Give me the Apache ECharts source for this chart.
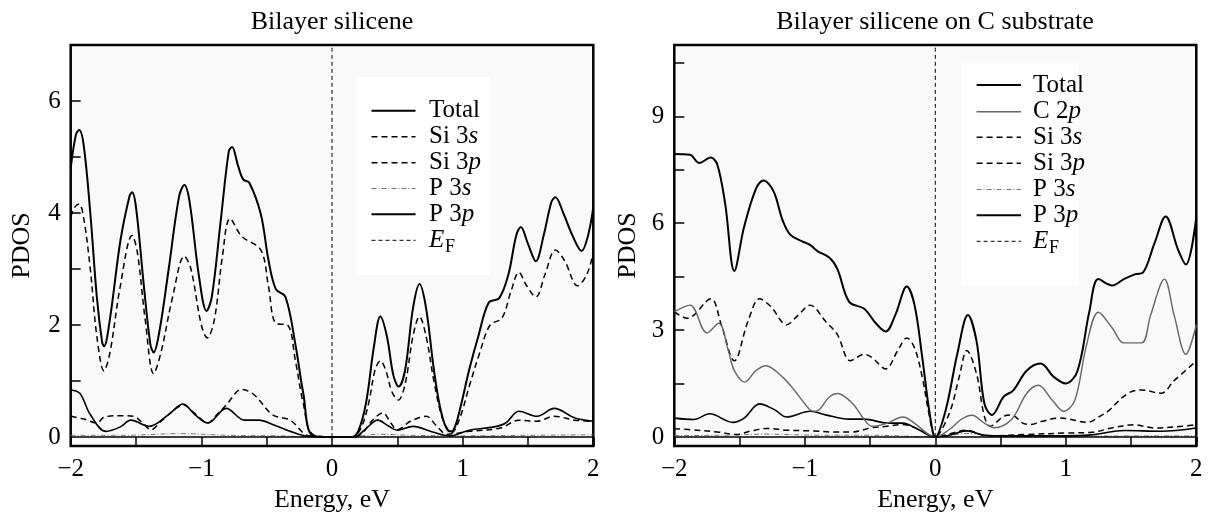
<!DOCTYPE html>
<html>
<head>
<meta charset="utf-8">
<script src="https://cdn.jsdelivr.net/npm/echarts@6/dist/echarts.min.js"></script>
<style>
  html, body { margin: 0; padding: 0; background: #fff; }
  #chart { width: 1208px; height: 518px; }
</style>
</head>
<body>
<div id="chart"></div>
<script>
// ---- data: bilayer silicene (left panel) ----
var blTotalE = [-2,-1.96,-1.935,-1.9,-1.85,-1.8,-1.76,-1.745,-1.7,-1.62,-1.55,-1.53,-1.5,-1.44,-1.39,-1.365,-1.32,-1.25,-1.17,-1.13,-1.09,-1.02,-0.96,-0.92,-0.85,-0.79,-0.765,-0.72,-0.68,-0.633,-0.545,-0.487,-0.43,-0.356,-0.28,-0.22,-0.15,0,0.15,0.2,0.26,0.32,0.37,0.42,0.47,0.51,0.56,0.62,0.67,0.72,0.78,0.84,0.9,0.93,0.98,1.05,1.12,1.2,1.28,1.35,1.41,1.445,1.5,1.56,1.62,1.68,1.71,1.77,1.84,1.91,1.96,2]
var blTotal = [4.8,5.4,5.48,5.2,4.0,2.5,1.7,1.62,2.1,3.5,4.3,4.37,4.1,2.7,1.65,1.51,1.9,3.0,4.3,4.5,4.2,2.9,2.25,2.5,3.9,5.1,5.18,4.85,4.6,4.54,3.98,3.17,2.64,2.5,1.65,0.78,0.03,0,0,0.1,0.6,1.6,2.15,1.8,1.1,0.9,1.2,2.3,2.73,2.3,1.2,0.4,0.1,0.12,0.5,1.2,1.8,2.4,2.48,2.9,3.6,3.75,3.45,3.14,3.6,4.2,4.28,4.0,3.6,3.32,3.6,4.1]

var blSi3pE = [-2,-1.97,-1.935,-1.9,-1.85,-1.8,-1.745,-1.7,-1.62,-1.53,-1.49,-1.43,-1.365,-1.31,-1.22,-1.13,-1.08,-1.0,-0.955,-0.9,-0.84,-0.78,-0.69,-0.545,-0.487,-0.43,-0.34,-0.28,-0.22,-0.15,0,0.15,0.22,0.28,0.33,0.37,0.41,0.46,0.508,0.56,0.62,0.669,0.72,0.78,0.85,0.917,0.98,1.05,1.13,1.21,1.3,1.37,1.43,1.49,1.56,1.63,1.71,1.78,1.88,1.95,2]
var blSi3p = [3.93,4.1,4.16,3.9,3.0,1.8,1.18,1.5,2.7,3.6,3.3,2.1,1.13,1.5,2.5,3.23,3.0,2.0,1.77,2.1,3.2,3.9,3.58,3.34,2.7,2.03,2.0,1.36,0.6,0.05,0,0,0.15,0.6,1.2,1.36,1.2,0.8,0.66,0.95,1.8,2.15,1.8,1.0,0.3,0.08,0.35,0.9,1.5,2.0,2.12,2.6,2.94,2.7,2.5,2.9,3.34,3.15,2.7,2.9,3.29]

var blSi3sE = [-2,-1.9,-1.8,-1.74,-1.6,-1.52,-1.45,-1.385,-1.3,-1.2,-1.14,-1.05,-0.95,-0.88,-0.81,-0.69,-0.594,-0.457,-0.32,-0.21,-0.15,0,0.15,0.225,0.31,0.39,0.45,0.5,0.6,0.72,0.8,0.88,1.05,1.29,1.43,1.57,1.7,1.86,2]
var blSi3s = [0.37,0.32,0.25,0.36,0.38,0.37,0.25,0.13,0.3,0.5,0.57,0.42,0.25,0.4,0.57,0.85,0.75,0.4,0.3,0.05,0.01,0,0,0.05,0.3,0.43,0.25,0.13,0.28,0.37,0.2,0.05,0.1,0.16,0.3,0.28,0.37,0.3,0.28]

var blP3pE = [-2,-1.93,-1.85,-1.73,-1.62,-1.54,-1.4,-1.25,-1.14,-1.05,-0.95,-0.81,-0.67,-0.56,-0.45,-0.32,-0.18,0,0.17,0.26,0.35,0.43,0.5,0.62,0.77,0.9,1.05,1.24,1.33,1.43,1.57,1.7,1.86,2]
var blP3p = [0.84,0.78,0.4,0.1,0.18,0.3,0.19,0.4,0.59,0.4,0.25,0.51,0.3,0.3,0.22,0.1,0.01,0,0,0.15,0.3,0.2,0.12,0.19,0.09,0.02,0.12,0.18,0.25,0.46,0.37,0.51,0.34,0.28]

var blP3sE = [-2,-1.6,-1.15,-0.8,-0.4,-0.15,0.15,0.35,0.6,1.0,1.5,2]
var blP3s = [0.03,0.03,0.06,0.03,0.02,0,0,0.05,0.03,0.02,0.03,0.04]

// ---- data: bilayer silicene on C substrate (right panel) ----
var csTotalE = [-2,-1.88,-1.81,-1.72,-1.67,-1.61,-1.54,-1.465,-1.376,-1.317,-1.24,-1.17,-1.11,-1.02,-0.96,-0.9,-0.81,-0.75,-0.66,-0.545,-0.456,-0.38,-0.307,-0.218,-0.159,-0.1,-0.04,0,0.08,0.168,0.25,0.316,0.376,0.435,0.524,0.598,0.7,0.806,0.91,1.0,1.09,1.18,1.25,1.356,1.445,1.534,1.59,1.68,1.765,1.86,1.92,2]
var csTotal = [7.94,7.92,7.69,7.84,7.64,6.54,4.66,5.9,6.95,7.2,6.9,6.08,5.67,5.49,5.39,5.21,5.03,4.71,3.79,3.6,3.19,2.96,3.42,4.22,3.7,2.23,0.58,0,0.76,2.32,3.42,2.69,0.94,0.62,1.13,1.31,1.86,2.06,1.68,1.5,1.86,3.51,4.43,4.25,4.43,4.57,4.61,5.44,6.19,5.26,4.84,6.17]

var csC2pE = [-2,-1.88,-1.75,-1.66,-1.585,-1.54,-1.46,-1.376,-1.3,-1.17,-1.08,-0.96,-0.916,-0.81,-0.75,-0.634,-0.545,-0.486,-0.366,-0.25,-0.16,-0.07,0,0.108,0.197,0.28,0.376,0.45,0.584,0.7,0.79,0.895,0.984,1.07,1.16,1.25,1.356,1.445,1.58,1.65,1.756,1.83,1.92,2]
var csC2p = [3.51,3.7,2.92,3.19,2.41,1.86,1.54,1.86,2.0,1.68,1.31,0.76,0.72,1.13,1.22,0.94,0.49,0.3,0.39,0.56,0.39,0.12,0,0.21,0.49,0.61,0.39,0.26,0.49,1.22,1.45,1.04,0.72,1.04,2.6,3.5,3.06,2.64,2.64,3.42,4.43,3.42,2.32,3.15]

var csSi3pE = [-2,-1.9,-1.72,-1.64,-1.54,-1.436,-1.347,-1.258,-1.14,-1.05,-0.96,-0.84,-0.75,-0.65,-0.545,-0.486,-0.38,-0.29,-0.218,-0.159,-0.1,-0.04,0,0.108,0.183,0.242,0.316,0.376,0.42,0.524,0.584,0.67,0.73,0.82,0.94,1.0,1.166,1.27,1.32,1.47,1.575,1.73,1.83,2]
var csSi3p = [3.51,3.33,3.88,3.15,2.14,3.24,3.88,3.65,3.15,3.42,3.7,3.24,2.87,2.14,2.32,2.23,1.91,2.41,2.78,2.5,1.68,0.49,0,0.67,1.68,2.43,1.77,0.58,0.3,0.58,0.62,0.39,0.35,0.44,0.53,0.52,0.41,0.6,0.71,1.21,1.32,1.23,1.58,2.13]

var csSi3sE = [-2,-1.82,-1.67,-1.52,-1.41,-1.29,-1.14,-0.93,-0.78,-0.64,-0.486,-0.37,-0.25,-0.1,0,0.12,0.24,0.4,0.7,1.0,1.2,1.36,1.52,1.69,1.89,2]
var csSi3s = [0.23,0.19,0.14,0.07,0.17,0.24,0.19,0.17,0.14,0.14,0.26,0.3,0.35,0.17,0,0.1,0.19,0.03,0.07,0.11,0.13,0.26,0.34,0.25,0.3,0.35]

var csP3pE = [-2,-1.85,-1.73,-1.55,-1.465,-1.347,-1.23,-1.14,-0.96,-0.84,-0.66,-0.545,-0.366,-0.25,-0.13,0,0.108,0.24,0.376,0.55,1.0,1.2,1.45,1.73,2]
var csP3p = [0.53,0.49,0.65,0.41,0.53,0.93,0.76,0.56,0.72,0.62,0.5,0.5,0.39,0.39,0.21,0,0.05,0.17,0.05,0.03,0.03,0.06,0.18,0.16,0.25]

var csP3sE = [-2,-1.6,-1.3,-0.9,-0.5,0,0.25,0.5,1,1.5,2]
var csP3s = [0.04,0.05,0.08,0.05,0.05,0,0.1,0.02,0.02,0.03,0.03]

// axis ranges / ticks
var blYRange = [-0.163, 7]
var csYRange = [-0.256, 11]
var blYTicks = [1, 2, 3, 4, 5, 6]
var blYLabels = [0, 2, 4, 6]
var csYTicks = [1.5, 3, 4.5, 6, 7.5, 9, 10.5]
var csYLabels = [0, 3, 6, 9]

var FONT = "'Liberation Serif', 'Times New Roman', serif"

function pairs(E, V) {
  return E.map(function (e, i) { return [e, V[i]] })
}
function minus(v) {
  return String(v).replace('-', '\u2212')
}

var solid = { color: '#000', width: 2, type: 'solid' }
var solidThin = { color: '#000', width: 1.6, type: 'solid' }
var dashed = { color: '#000', width: 1.5, type: [6, 4] }
var dashDot = { color: '#777', width: 1, type: [5, 2, 1, 2] }
var grey = { color: '#666', width: 1.4, type: 'solid' }
var efStyle = { color: '#000', width: 1, type: [4, 3] }

function line(name, idx, E, V, style, z) {
  return {
    name: name,
    type: 'line',
    xAxisIndex: idx,
    yAxisIndex: idx,
    data: pairs(E, V),
    symbol: 'none',
    smooth: 0.35,
    lineStyle: style,
    z: z || 2,
    silent: true,
    animation: false
  }
}

function zeroLine(idx) {
  return {
    name: 'zero' + idx,
    type: 'line',
    xAxisIndex: idx,
    yAxisIndex: idx,
    data: [],
    symbol: 'none',
    silent: true,
    animation: false,
    markLine: {
      silent: true,
      symbol: 'none',
      label: { show: false },
      lineStyle: { color: '#000', width: 1.5, type: 'solid' },
      data: [{ yAxis: 0 }],
      animation: false
    }
  }
}

function xAxis(idx) {
  return {
    type: 'value',
    gridIndex: idx,
    min: -2,
    max: 2,
    interval: 0.5,
    name: 'Energy, eV',
    nameLocation: 'middle',
    nameGap: 27,
    nameTextStyle: { fontFamily: FONT, fontSize: 26, color: '#000' },
    axisLine: { show: false, onZero: false },
    axisTick: { inside: true, length: 9, lineStyle: { color: '#000', width: 1.5 } },
    axisLabel: {
      fontFamily: FONT, fontSize: 25, color: '#000', margin: 11,
      formatter: function (v) { return Number.isInteger(v) ? minus(v) : '' }
    },
    splitLine: { show: false }
  }
}

function yAxis(idx, range, ticks, labels, gap) {
  return {
    type: 'value',
    gridIndex: idx,
    min: range[0],
    max: range[1],
    name: 'PDOS',
    nameLocation: 'middle',
    nameGap: gap,
    nameTextStyle: { fontFamily: FONT, fontSize: 26, color: '#000' },
    axisLine: { show: false, onZero: false },
    axisTick: { inside: true, length: 10, customValues: ticks, lineStyle: { color: '#000', width: 1.5 } },
    axisLabel: { fontFamily: FONT, fontSize: 25, color: '#000', margin: 10, customValues: labels },
    splitLine: { show: false }
  }
}

// legend drawn as graphic elements
function legend(box, x0, x1, tx, rows) {
  var els = [{
    type: 'rect', silent: true, z: 50,
    shape: { x: box[0], y: box[1], width: box[2], height: box[3] },
    style: { fill: '#fff' }
  }]
  rows.forEach(function (r) {
    var s = r.style
    els.push({
      type: 'line', silent: true, z: 51,
      shape: { x1: x0, y1: r.y, x2: x1, y2: r.y },
      style: { stroke: s.color, lineWidth: s.width, lineDash: Array.isArray(s.type) ? s.type : null }
    })
    els.push({
      type: 'text', silent: true, z: 51, x: tx, y: r.y,
      style: {
        text: r.text, fill: '#000', fontSize: 25, fontFamily: FONT, verticalAlign: 'middle',
        rich: { i: { fontSize: 25, fontFamily: FONT, fontStyle: 'italic', fill: '#000' } }
      }
    })
    if (r.sub) {
      els.push({
        type: 'text', silent: true, z: 51, x: tx + 16, y: r.y + 7,
        style: { text: r.sub, fill: '#000', fontSize: 18, fontFamily: FONT, verticalAlign: 'middle' }
      })
    }
  })
  return els
}

var blRows = [
  { y: 110.7, text: 'Total', style: solid },
  { y: 136.7, text: 'Si 3{i|s}', style: dashed },
  { y: 162.7, text: 'Si 3{i|p}', style: dashed },
  { y: 188.5, text: 'P 3{i|s}', style: dashDot },
  { y: 214.3, text: 'P 3{i|p}', style: solid },
  { y: 240.3, text: '{i|E}', sub: 'F', style: efStyle }
]
var csRows = [
  { y: 85, text: 'Total', style: solid },
  { y: 111.7, text: 'C 2{i|p}', style: grey },
  { y: 137.3, text: 'Si 3{i|s}', style: dashed },
  { y: 163.3, text: 'Si 3{i|p}', style: dashed },
  { y: 189.5, text: 'P 3{i|s}', style: dashDot },
  { y: 215.3, text: 'P 3{i|p}', style: solid },
  { y: 241.3, text: '{i|E}', sub: 'F', style: efStyle }
]

var chart = echarts.init(document.getElementById('chart'))
chart.setOption({
  backgroundColor: '#fff',
  animation: false,
  title: [
    { text: 'Bilayer silicene', left: 332, top: 9, textAlign: 'center', padding: 0,
      textStyle: { fontFamily: FONT, fontSize: 26, fontWeight: 'normal', color: '#000' } },
    { text: 'Bilayer silicene on C substrate', left: 935, top: 9, textAlign: 'center', padding: 0,
      textStyle: { fontFamily: FONT, fontSize: 26, fontWeight: 'normal', color: '#000' } }
  ],
  grid: [
    { left: 70.7, top: 45, width: 522.6, height: 408.3, show: true, backgroundColor: '#f9f9f9', borderColor: '#000', borderWidth: 2.5 },
    { left: 674.3, top: 45, width: 522, height: 408.3, show: true, backgroundColor: '#f9f9f9', borderColor: '#000', borderWidth: 2.5 }
  ],
  xAxis: [xAxis(0), xAxis(1)],
  yAxis: [
    yAxis(0, blYRange, blYTicks, blYLabels, 36),
    yAxis(1, csYRange, csYTicks, csYLabels, 33)
  ],
  series: [
    zeroLine(0),
    line('P 3s', 0, blP3sE, blP3s, dashDot),
    line('P 3p', 0, blP3pE, blP3p, solidThin, 3),
    line('Si 3s', 0, blSi3sE, blSi3s, dashed, 3),
    line('Si 3p', 0, blSi3pE, blSi3p, dashed, 3),
    line('Total', 0, blTotalE, blTotal, solid, 4),
    line('E_F', 0, [0, 0], [0, blYRange[1]], efStyle, 1),

    zeroLine(1),
    line('P 3s', 1, csP3sE, csP3s, dashDot),
    line('P 3p', 1, csP3pE, csP3p, solidThin, 3),
    line('Si 3s', 1, csSi3sE, csSi3s, dashed, 3),
    line('Si 3p', 1, csSi3pE, csSi3p, dashed, 3),
    line('C 2p', 1, csC2pE, csC2p, grey, 3),
    line('Total', 1, csTotalE, csTotal, solid, 4),
    line('E_F', 1, [0, 0], [0, csYRange[1]], efStyle, 1)
  ],
  graphic: legend([356, 77, 134, 198], 371.5, 415.5, 429, blRows)
    .concat(legend([961, 63, 118, 222], 976.6, 1021, 1033, csRows))
})
</script>
</body>
</html>
